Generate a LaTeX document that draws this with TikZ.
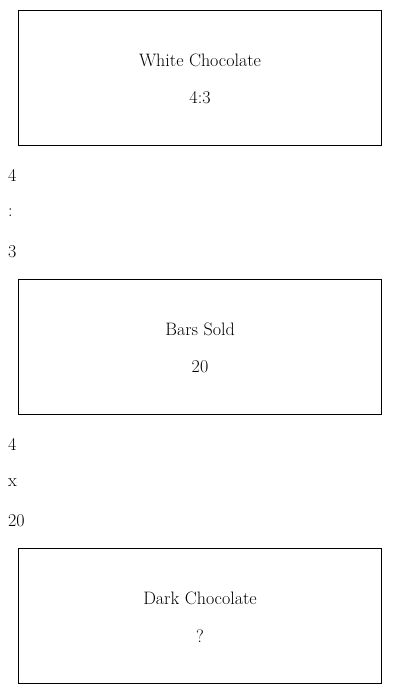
\documentclass[tikz,border=0pt]{standalone}
\begin{document}
\begin{tikzpicture}[x=1pt, y=-1pt,
    every node/.style={font=\fontsize{18}{21}\selectfont, inner sep=0pt},
    panel/.style={draw, line width=1pt},
    side/.style={anchor=west}]
                \useasboundingbox (0,0) rectangle (400,694);
                % white chocolate
                \draw[panel] (18,10) rectangle (381,145);
                \node (wtitle) at (200,60) {White Chocolate};
                \node (wratio) at (200,98) {4:3};
                \node[side] (wfour) at (8,175) {4};
                \node[side] (wcolon) at (8,213) {:};
                \node[side] (wthree) at (8,252) {3};
                % bars sold
                \draw[panel] (18,279) rectangle (381,414);
                \node (stitle) at (200,329) {Bars Sold};
                \node (svalue) at (200,367) {20};
                \node[side] (sfour) at (8,444) {4};
                \node[side] (stimes) at (8,483) {x};
                \node[side] (stwenty) at (8,521) {20};
                % dark chocolate
                \draw[panel] (18,548) rectangle (381,683);
                \node (dtitle) at (200,598) {Dark Chocolate};
                \node (dvalue) at (200,636) {?};
            \end{tikzpicture}
\end{document}
